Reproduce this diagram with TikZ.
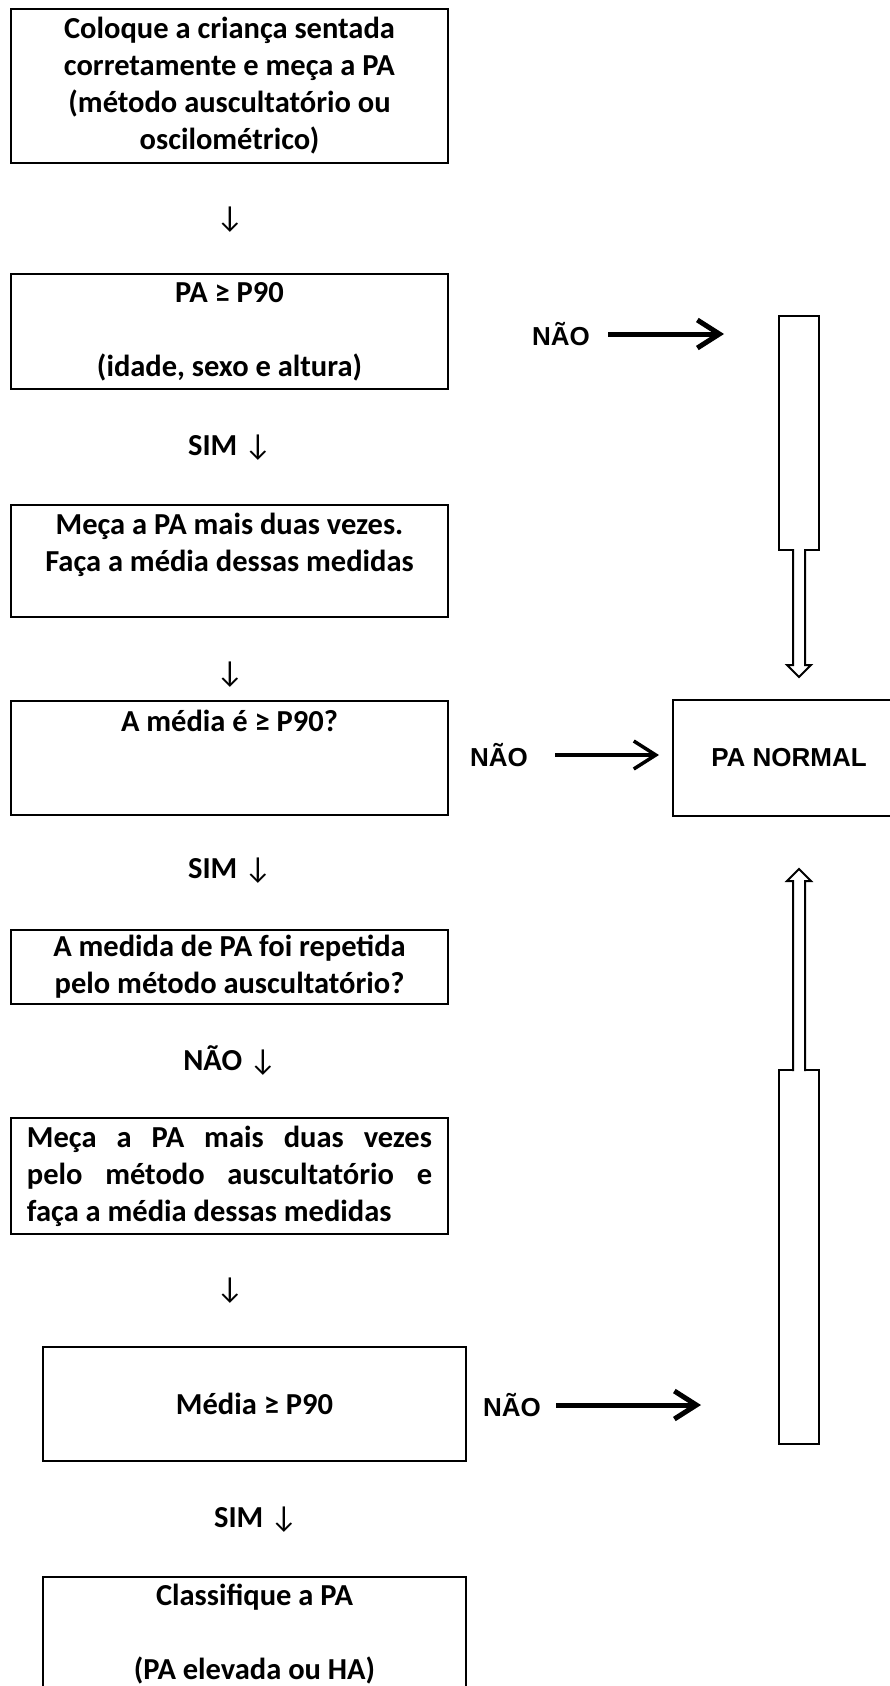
\documentclass[tikz,border=0pt]{standalone}
\usepackage{fontspec}
\setmainfont{Carlito}
\newfontfamily\arialfont{Liberation Sans}
\usetikzlibrary{arrows.meta,calc}

\begin{document}
\begin{tikzpicture}[x=1pt,y=-1pt]

    \tikzset{
      BoxStyle/.style = { rectangle, draw, line width=2pt, inner sep=0pt,
                          minimum width=437pt, align=center,
                          font = \fontsize{30.5}{37}\selectfont\bfseries },
      DownStyle/.style = { inner sep=0pt, font = \fontsize{30.5}{37}\selectfont\bfseries },
      NaoStyle/.style = { inner sep=0pt, font = \arialfont\fontsize{26}{30}\selectfont\bfseries },
      NaoEdge/.style = { line width=5pt, -{Straight Barb[length=22pt,width=28pt]} },
      TubeStyle/.style = { rectangle, draw, line width=2pt, inner sep=0pt,
                           minimum width=40pt },
      TubeEdge/.style = { line width=2pt, fill=white, line join=miter } }

      \useasboundingbox (0,0) rectangle (890,1686);
      \clip (0,0) rectangle (890,1686);

      % left column
      \node[BoxStyle, minimum height=154pt] (c1) at (229.5, 86) {Coloque a criança sentada\\corretamente e meça a PA\\(método auscultatório ou\\oscilométrico)};
      \node[DownStyle] (d1) at (230, 220) {\mdseries ↓};

      \node[BoxStyle, minimum height=115pt] (c2) at (229.5, 331.5) {PA ≥ P90\\[37pt](idade, sexo e altura)};
      \node[DownStyle] (d2) at (230, 448) {SIM \mdseries ↓};

      \node[BoxStyle, minimum height=112pt] (c3) at (229.5, 561) {Meça a PA mais duas vezes.\\Faça a média dessas medidas\\~};
      \node[DownStyle] (d3) at (230, 675) {\mdseries ↓};

      \node[BoxStyle, minimum height=114pt] (c4) at (229.5, 758) {A média é ≥ P90?\\~\\~};
      \node[DownStyle] (d4) at (230, 871) {SIM \mdseries ↓};

      \node[BoxStyle, minimum height=74pt] (c5) at (229.5, 967) {A medida de PA foi repetida\\pelo método auscultatório?};
      \node[DownStyle] (d5) at (230, 1061) {NÃO \mdseries ↓};

      \node[BoxStyle, minimum height=116pt, text width=405pt, align=justify] (c6) at (229.5, 1176) {Meça a PA mais duas vezes\linebreak pelo método auscultatório e\linebreak faça a média dessas medidas};
      \node[DownStyle] (d6) at (230, 1291) {\mdseries ↓};

      \node[BoxStyle, minimum width=423pt, minimum height=114pt] (c7) at (254.5, 1404) {Média ≥ P90};
      \node[DownStyle] (d7) at (256, 1520) {SIM \mdseries ↓};

      \node[BoxStyle, minimum width=423pt, minimum height=115pt] (c8) at (254.5, 1634.5) {Classifique a PA\\[37pt](PA elevada ou HA)};

      % right column
      \node[NaoStyle] (n1) at (561, 334) {NÃO};
      \node[TubeStyle, minimum height=234pt] (t1) at (799, 433) {};
      \node[rectangle, draw, line width=2pt, minimum width=232pt, minimum height=116pt, NaoStyle] (pn) at (789, 758) {PA NORMAL};
      \node[NaoStyle] (n2) at (499, 755) {NÃO};
      \node[TubeStyle, minimum height=374pt] (t2) at (799, 1257) {};
      \node[NaoStyle] (n3) at (512, 1405) {NÃO};

      \draw[NaoEdge, shorten <=18pt, shorten >=54pt] (n1) -- (n1 -| t1.west);
      \draw[NaoEdge, line width=3.5pt, shorten <=27pt, shorten >=13pt] (n2) -- (n2 -| pn.west);
      \draw[NaoEdge, shorten <=15pt, shorten >=77pt] (n3) -- (n3 -| t2.west);

      % hollow arrows out of the tubes
      \coordinate (tip1) at ($(t1.south |- pn.north)+(0,-22)$);
      \coordinate (tip2) at ($(t2.north |- pn.south)+(0,52)$);
      \draw[TubeEdge] ($(t1.south)+(-6,-2)$) -- ($(tip1)+(-6,-12)$) -- ($(tip1)+(-12,-12)$) -- (tip1)
            -- ($(tip1)+(12,-12)$) -- ($(tip1)+(6,-12)$) -- ($(t1.south)+(6,-2)$);
      \draw[TubeEdge] ($(t2.north)+(-6,2)$) -- ($(tip2)+(-6,12)$) -- ($(tip2)+(-12,12)$) -- (tip2)
            -- ($(tip2)+(12,12)$) -- ($(tip2)+(6,12)$) -- ($(t2.north)+(6,2)$);

\end{tikzpicture}
\end{document}
